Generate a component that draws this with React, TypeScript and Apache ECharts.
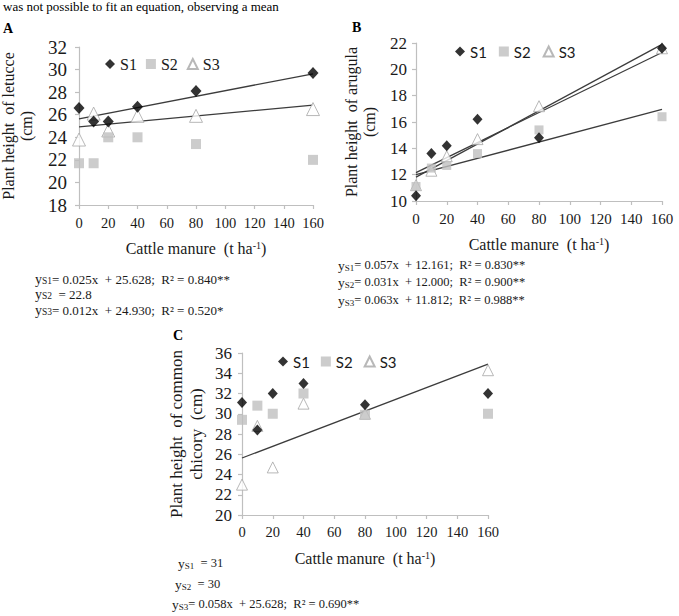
import React, { useEffect, useRef } from 'react';
import * as echarts from 'echarts';

// ---------- data ----------
const xValues = [0, 10, 20, 40, 80, 160];
const seriesNames = ['S1', 'S2', 'S3'];

const lettuceS1 = [26.6, 25.4, 25.4, 26.7, 28.1, 29.7];
const lettuceS2 = [21.7, 21.7, 24.0, 24.0, 23.4, 22.0];
const lettuceS3 = [23.8, 26.1, 24.6, 25.9, 25.9, 26.5];

const arugulaS1 = [10.4, 13.6, 14.2, 16.2, 14.8, 21.6];
const arugulaS2 = [11.1, 12.5, 12.7, 13.6, 15.4, 16.4];
const arugulaS3 = [11.2, 12.3, 13.4, 14.7, 17.2, 21.6];

const chicoryS1 = [31.1, 28.4, 32.0, 33.0, 30.9, 32.0];
const chicoryS2 = [29.4, 30.8, 30.0, 32.0, 29.9, 30.0];
const chicoryS3 = [23.0, 28.8, 24.7, 31.0, 30.0, 34.3];

// regression fits: slope (null = mean only), intercept, R²
const lettuceSlopes = [0.025, null, 0.012];
const lettuceIntercepts = [25.628, 22.8, 24.93];
const lettuceR2 = ['0.840**', null, '0.520*'];
const arugulaSlopes = [0.057, 0.031, 0.063];
const arugulaIntercepts = [12.161, 12.0, 11.812];
const arugulaR2 = ['0.830**', '0.900**', '0.988**'];
const chicorySlopes = [null, null, 0.058];
const chicoryIntercepts = [31, 30, 25.628];
const chicoryR2 = [null, null, '0.690**'];

// axis ranges [min, max, interval]
const xRange = [0, 160, 20];
const lettuceYRange = [18, 32, 2];
const arugulaYRange = [10, 22, 2];
const chicoryYRange = [20, 36, 2];

const panelLetters = ['A', 'B', 'C'];
const yTitles = [
  'Plant height  of letucce\n(cm)',
  'Plant height  of arugula\n(cm)',
  'Plant height  of common\nchicory  (cm)',
];
const xTitle = '{a|Cattle manure  (t ha}{b|-1}{a|)}';
const topText = 'was not possible to fit an equation, observing a mean';

// ---------- styles ----------
const serif = 'Liberation Serif';
const sans = 'Lato';
const axisGray = '#bfbfbf';
const textColor = '#1a1a1a';

function eqText(i: number, slope: number | null, intercept: number, r2: string | null) {
  if (slope === null) return `{y|y}{s|S${i + 1}}{t|  = ${intercept}}`;
  return `{y|y}{s|S${i + 1}}{t|= ${slope.toFixed(3)}x  + ${intercept.toFixed(3)};  R² = ${r2}}`;
}

export default function App() {
  const ref = useRef<HTMLDivElement>(null);
  useEffect(() => {
    const chart = echarts.init(ref.current!, null, { renderer: 'svg' });

    const panels = [
      {
        values: [lettuceS1, lettuceS2, lettuceS3],
        slopes: lettuceSlopes, intercepts: lettuceIntercepts, r2: lettuceR2,
        yRange: lettuceYRange,
        grid: { left: 79, top: 47, width: 234, height: 158 },
        yLabelSize: 19, xLabelSize: 14.5, yLabelMargin: 12, xLabelMargin: 10,
        yNameGap: 44, yNameSize: 16, yNameLH: 18, xNameGap: 35,
        sizes: [[11, 12], 10, 13],
        legend: { left: 100, top: 51, font: serif, size: 16, gap: 9 },
        letter: [3, 28],
        eq: { x: 35, ys: [279, 294, 310], size: 13 },
      },
      {
        values: [arugulaS1, arugulaS2, arugulaS3],
        slopes: arugulaSlopes, intercepts: arugulaIntercepts, r2: arugulaR2,
        yRange: arugulaYRange,
        grid: { left: 416, top: 43, width: 246, height: 158 },
        yLabelSize: 17, xLabelSize: 15, yLabelMargin: 9, xLabelMargin: 10,
        yNameGap: 38, yNameSize: 16, yNameLH: 18, xNameGap: 35,
        sizes: [[10, 11], 9, 11],
        legend: { left: 450, top: 39, font: sans, size: 15, gap: 12 },
        letter: [352, 27],
        eq: { x: 338, ys: [265, 282, 300], size: 12.5 },
      },
      {
        values: [chicoryS1, chicoryS2, chicoryS3],
        slopes: chicorySlopes, intercepts: chicoryIntercepts, r2: chicoryR2,
        yRange: chicoryYRange,
        grid: { left: 242, top: 353, width: 246, height: 162 },
        yLabelSize: 17, xLabelSize: 14.5, yLabelMargin: 10, xLabelMargin: 9,
        yNameGap: 36, yNameSize: 17, yNameLH: 20, xNameGap: 35,
        sizes: [[10, 11], 10, 11],
        legend: { left: 273, top: 349, font: sans, size: 15, gap: 11 },
        letter: [173, 335],
        eq: { x: 172, ys: [563, 584, 604], size: 12.5, xs: [178, 175, 172] },
      },
    ];

    const grids: any[] = [];
    const xAxes: any[] = [];
    const yAxes: any[] = [];
    const series: any[] = [];
    const legends: any[] = [];
    const graphics: any[] = [];

    panels.forEach((p, gi) => {
      grids.push({ ...p.grid, containLabel: false, outerBoundsMode: 'none' });
      xAxes.push({
        type: 'value', gridIndex: gi,
        min: xRange[0], max: xRange[1], interval: xRange[2],
        axisLine: { show: true, lineStyle: { color: axisGray, width: 1.2 } },
        axisTick: { show: true, length: 4, lineStyle: { color: axisGray, width: 1.2 } },
        axisLabel: { color: textColor, fontFamily: serif, fontSize: p.xLabelSize, margin: p.xLabelMargin },
        splitLine: { show: false },
        name: xTitle, nameLocation: 'middle', nameGap: p.xNameGap,
        nameTextStyle: {
          fontFamily: serif, fontSize: 16, fontWeight: 'normal', color: textColor,
          rich: {
            a: { fontFamily: serif, fontSize: 16, fontWeight: 'normal', color: textColor },
            b: { fontFamily: serif, fontSize: 10, fontWeight: 'normal', color: textColor, verticalAlign: 'top' },
          },
        },
      });
      yAxes.push({
        type: 'value', gridIndex: gi,
        min: p.yRange[0], max: p.yRange[1], interval: p.yRange[2],
        axisLine: { show: true, lineStyle: { color: axisGray, width: 1.2 } },
        axisTick: { show: true, length: 4, lineStyle: { color: axisGray, width: 1.2 } },
        axisLabel: { color: textColor, fontFamily: serif, fontSize: p.yLabelSize, margin: p.yLabelMargin },
        splitLine: { show: false },
        name: yTitles[gi], nameLocation: 'middle', nameRotate: 90, nameGap: p.yNameGap,
        nameTextStyle: { fontFamily: serif, fontSize: p.yNameSize, fontWeight: 'normal', lineHeight: p.yNameLH, color: textColor },
      });

      const symbols = ['diamond', 'rect', 'triangle'];
      const styles = [
        { color: '#000000' },
        { color: '#bfbfbf' },
        { color: '#ffffff', borderColor: '#a6a6a6', borderWidth: 1 },
      ];
      p.values.forEach((vals, si) => {
        series.push({
          type: 'scatter', name: seriesNames[si],
          xAxisIndex: gi, yAxisIndex: gi,
          symbol: symbols[si], symbolSize: p.sizes[si],
          itemStyle: styles[si],
          z: si === 2 ? 3 : si === 1 ? 4 : 5,
          data: xValues.map((x, k) => [x, vals[k]]),
        });
      });
      p.slopes.forEach((m, si) => {
        if (m === null) return;
        const b = p.intercepts[si];
        series.push({
          type: 'line', name: `fit ${panelLetters[gi]}${seriesNames[si]}`,
          xAxisIndex: gi, yAxisIndex: gi,
          symbol: 'none', silent: true, z: 2,
          lineStyle: { color: '#3c3c3c', width: 1.3 },
          data: [[xRange[0], b + m * xRange[0]], [xRange[1], b + m * xRange[1]]],
        });
      });

      legends.push({
        left: p.legend.left, top: p.legend.top,
        itemWidth: 10, itemHeight: 10, itemGap: p.legend.gap,
        selectedMode: false,
        textStyle: { fontFamily: p.legend.font, fontSize: p.legend.size, color: textColor },
        data: [
          { name: 'S1', icon: 'diamond' },
          { name: 'S2', icon: 'rect' },
          { name: 'S3', icon: 'triangle' },
        ],
      });

      graphics.push({
        type: 'text', x: p.letter[0], y: p.letter[1],
        style: { text: panelLetters[gi], fontFamily: serif, fontSize: 14, fontWeight: 'bold', fill: '#000', verticalAlign: 'middle' },
      });

      p.slopes.forEach((m, si) => {
        graphics.push({
          type: 'text',
          x: (p.eq as any).xs ? (p.eq as any).xs[si] : p.eq.x,
          y: p.eq.ys[si],
          style: {
            text: eqText(si, m, p.intercepts[si], p.r2[si]),
            verticalAlign: 'middle',
            fill: textColor,
            fontFamily: serif,
            rich: {
              y: { fontFamily: serif, fontSize: p.eq.size + 1, fill: textColor },
              s: { fontFamily: serif, fontSize: p.eq.size - 3.5, fill: textColor, verticalAlign: 'bottom' },
              t: { fontFamily: serif, fontSize: p.eq.size, fill: textColor },
            },
          },
        });
      });
    });

    graphics.push({
      type: 'text', x: 3, y: 0,
      style: { text: topText, fontFamily: serif, fontSize: 13, fill: '#000', verticalAlign: 'top' },
    });

    chart.setOption({
      animation: false,
      backgroundColor: '#ffffff',
      textStyle: { fontFamily: serif },
      grid: grids,
      xAxis: xAxes,
      yAxis: yAxes,
      legend: legends,
      series,
      graphic: graphics,
    });
    return () => chart.dispose();
  }, []);

  return (
    <div
      ref={ref}
      style={{ position: 'absolute', left: 0, top: 0, width: 679, height: 616 }}
    />
  );
}
